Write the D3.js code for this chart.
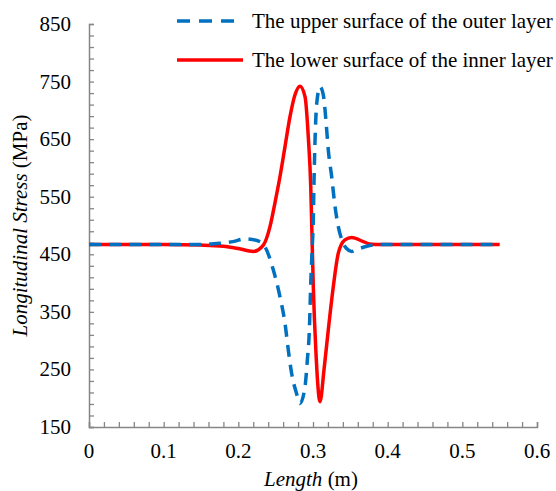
<!DOCTYPE html>
<html>
<head>
<meta charset="utf-8">
<script src="https://cdn.jsdelivr.net/npm/d3@7"></script>
<style>
  html, body { margin: 0; padding: 0; background: #fff; }
</style>
</head>
<body>
<svg id="chart" width="556" height="491"></svg>
<script>
// Longitudinal stress along the pipe length for two surfaces
const outerX = [0, 0.05, 0.1, 0.15, 0.175, 0.193, 0.209, 0.229, 0.2357, 0.2468, 0.2558, 0.2625, 0.2669, 0.2714, 0.278, 0.2826, 0.2893, 0.2924, 0.2951, 0.297, 0.2987, 0.3004, 0.3013, 0.3026, 0.305, 0.3094, 0.3138, 0.3173, 0.3205, 0.325, 0.3295, 0.3339, 0.3395, 0.345, 0.3518, 0.36, 0.372, 0.39, 0.45, 0.5, 0.55];
const outerY = [467, 467, 467, 467, 469, 472, 477, 472, 463, 423, 376, 330, 284, 243, 208, 191, 220, 266, 318, 400, 455, 510, 573, 643, 712, 741, 727, 683, 631, 585, 533, 498, 472, 460, 455, 459, 464, 467, 467, 467, 467];

const innerX = [0, 0.05, 0.1, 0.15, 0.18, 0.2, 0.22, 0.2335, 0.2424, 0.249, 0.2558, 0.2625, 0.2692, 0.2759, 0.2826, 0.2893, 0.2937, 0.297, 0.2987, 0.3004, 0.304, 0.3094, 0.3147, 0.3205, 0.3272, 0.3339, 0.3428, 0.3518, 0.3674, 0.376, 0.39, 0.45, 0.5, 0.55];
const innerY = [467, 467, 467, 466, 464, 460, 455, 466, 498, 539, 585, 637, 689, 727, 742, 724, 654, 567, 480, 394, 278, 194, 249, 319, 394, 452, 475, 479, 472, 468, 467, 467, 467, 467];

const xTicks = [0, 0.1, 0.2, 0.3, 0.4, 0.5, 0.6];
const yTicks = [150, 250, 350, 450, 550, 650, 750, 850];
const seriesNames = ["The upper surface of the outer layer", "The lower surface of the inner layer"];

const svg = d3.select("#chart");
const plotL = 89, plotR = 537, plotT = 24, plotB = 427;
const x = d3.scaleLinear().domain([0, 0.6]).range([plotL, plotR]);
const y = d3.scaleLinear().domain([150, 850]).range([plotB, plotT]);

const axisColor = "#868686";
const fontSize = 21;
const serif = "'Liberation Serif', 'Times New Roman', serif";
const label = sel => sel.style("font-family", serif).attr("font-size", fontSize).attr("fill", "#000");

// minor + major ticks, drawn inward
const xMinor = d3.range(0, 0.6001, 0.02);
const yMinor = d3.range(150, 850.01, 20);

const xAxis = svg.append("g").attr("transform", `translate(0,${plotB})`)
  .call(d3.axisTop(x).tickValues(xMinor).tickSize(5).tickFormat(""));
const yAxis = svg.append("g").attr("transform", `translate(${plotL},0)`)
  .call(d3.axisRight(y).tickValues(yMinor).tickSize(5).tickFormat(""));
[xAxis, yAxis].forEach(g => {
  g.selectAll("path.domain").attr("stroke", axisColor).attr("stroke-width", 1.5);
  g.selectAll(".tick line").attr("stroke", axisColor).attr("stroke-width", 1.3);
});

// tick labels
svg.append("g").selectAll("text").data(xTicks).join("text")
  .attr("x", d => x(d)).attr("y", plotB + 31)
  .attr("text-anchor", "middle").call(label)
  .text(d => d3.format("")(d));
svg.append("g").selectAll("text").data(yTicks).join("text")
  .attr("x", plotL - 18).attr("y", d => y(d) + 7)
  .attr("text-anchor", "end").call(label)
  .text(d => d);

// axis titles
const xt = svg.append("text").attr("x", (plotL + plotR) / 2 - 2).attr("y", 486)
  .attr("text-anchor", "middle").call(label);
xt.append("tspan").attr("font-style", "italic").text("Length");
xt.append("tspan").text(" (m)");

const yt = svg.append("text")
  .attr("transform", `translate(27,${(plotT + plotB) / 2}) rotate(-90)`)
  .attr("text-anchor", "middle").call(label);
yt.append("tspan").attr("font-style", "italic").text("Longitudinal Stress");
yt.append("tspan").text(" (MPa)");

// curves
const line = d3.line().x(d => x(d[0])).y(d => y(d[1])).curve(d3.curveMonotoneX);
const inner = innerX.map((v, i) => [v, innerY[i]]);
const outer = outerX.map((v, i) => [v, outerY[i]]);

const blue = "#0070C0", red = "#FF0000";
svg.append("path").datum(inner).attr("d", line)
  .attr("fill", "none").attr("stroke", red).attr("stroke-width", 3.5)
  .attr("stroke-linejoin", "round");
svg.append("path").datum(outer).attr("d", line)
  .attr("fill", "none").attr("stroke", blue).attr("stroke-width", 3.5)
  .attr("stroke-dasharray", "12,8");

// legend
const legend = svg.append("g");
const legendItems = [
  { name: seriesNames[0], color: blue, dash: "13,9", yPos: 21 },
  { name: seriesNames[1], color: red, dash: null, yPos: 60 }
];
legendItems.forEach(it => {
  legend.append("line").attr("x1", 177).attr("x2", 243)
    .attr("y1", it.yPos).attr("y2", it.yPos)
    .attr("stroke", it.color).attr("stroke-width", 3.5)
    .attr("stroke-dasharray", it.dash);
  legend.append("text").attr("x", 252).attr("y", it.yPos + 7)
    .call(label).text(it.name);
});
</script>
</body>
</html>
